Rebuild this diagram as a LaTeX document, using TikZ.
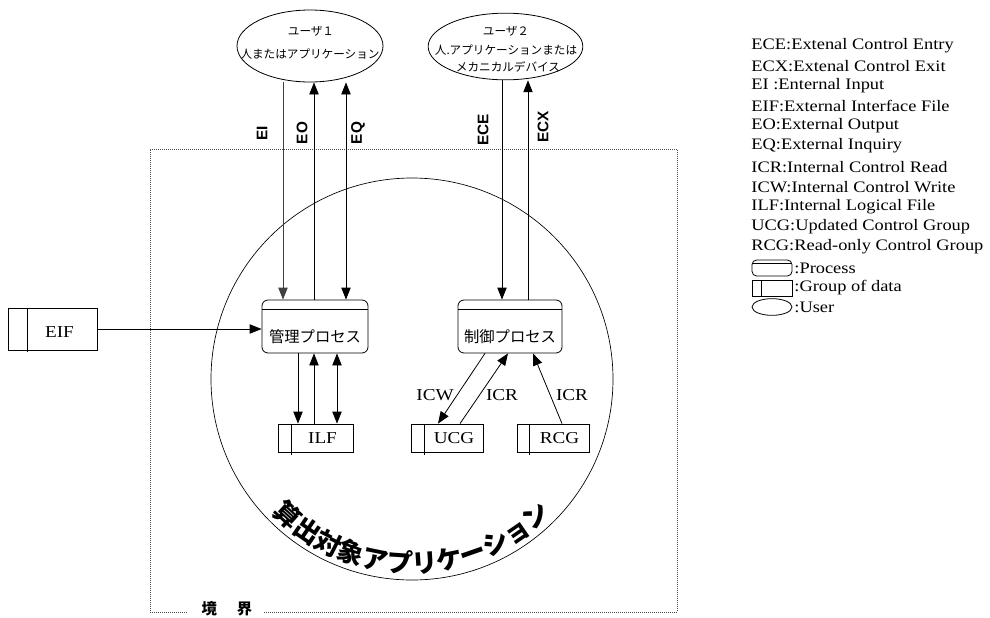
\documentclass[tikz,border=0pt]{standalone}
\usepackage{fontspec}
\setmainfont{Liberation Serif}[FakeStretch=1.15]
\setsansfont{Liberation Sans}
\newfontfamily\jp{Noto Sans CJK JP}
\usetikzlibrary{arrows.meta,shapes.geometric,decorations.text,calc}
\begin{document}
\begin{tikzpicture}[x=0.75pt,y=-0.75pt,
  line width=0.6pt,
  arr/.style={-{Triangle[width=7pt,length=9pt]}},
  arrtwo/.style={{Triangle[width=7pt,length=9pt]}-{Triangle[width=7pt,length=9pt]}},
  bnd/.style={densely dotted,line width=0.5pt,black!70},
  user/.style={ellipse,draw,inner sep=0pt,line width=0.6pt},
  proc/.style={draw,rounded corners=4.5pt,minimum width=79.5pt,minimum height=39.75pt,inner sep=0pt},
  dat/.style={draw,minimum height=21pt,inner sep=0pt},
  jpu/.style={font=\jp\fontsize{8.7}{10}\selectfont,inner sep=0pt},
  jpp/.style={font=\jp\fontsize{11.5}{13}\selectfont,inner sep=0pt},
  lab/.style={font=\sffamily\bfseries\fontsize{11.5}{12}\selectfont,inner sep=0pt,rotate=90},
  sm/.style={font=\fontsize{12.5}{14}\selectfont,inner sep=0pt},
  leg/.style={font=\fontsize{12}{15}\selectfont,inner sep=0pt,anchor=west},
]
\useasboundingbox (0,0) rectangle (990,618);

% boundary
\draw[bnd] (187,612) -- (150,612) -- (150,149) -- (677,149) -- (677,612) -- (263,612);
\node[font=\jp\bfseries\fontsize{11.5}{13}\selectfont,inner sep=0pt] (kyokai) at (227,609) {境\hspace{15pt}界};

% application circle
\node[circle,draw,minimum size=301.5pt,inner sep=0pt,line width=0.5pt] (app) at (412,379) {};
\path[decorate,decoration={text along path,text align=center,
  text={|\jp\bfseries\fontsize{19.5}{21}\selectfont|算出対象アプリケーション}}]
  (app.center) ++(150:194) arc[start angle=150,end angle=30,radius=194];

% users
\node[user,minimum width=109.5pt,minimum height=54pt] (u1) at (310,46) {};
\node[jpu] (u1a) at (311,31) {ユーザ１};
\node[jpu] (u1b) at (310,54) {人またはアプリケーション};
\node[user,minimum width=116pt,minimum height=50pt] (u2) at (505.5,46.5) {};
\node[jpu] (u2a) at (506,31) {ユーザ２};
\node[jpu] (u2b) at (506,50) {人.アプリケーションまたは};
\node[jpu] (u2c) at (508,67) {メカニカルデバイス};

% processes
\node[proc] (p1) at (315,326.5) {};
\draw ([yshift=-7.5pt]p1.north west) -- ([yshift=-7.5pt]p1.north east);
\node[jpp] (p1t) at ($(p1.center)+(0,10.5)$) {管理プロセス};
\node[proc,minimum width=78pt] (p2) at (510,326.5) {};
\draw ([yshift=-7.5pt]p2.north west) -- ([yshift=-7.5pt]p2.north east);
\node[jpp] (p2t) at ($(p2.center)+(0,10.5)$) {制御プロセス};

% data groups
\node[dat,minimum width=66.75pt,minimum height=31.5pt] (eif) at (52.5,329) {};
\draw ([xshift=15pt]eif.north west) -- ([xshift=15pt,yshift=-1.5pt]eif.south west);
\node[sm] (eift) at ($(eif.center)+(7,3)$) {EIF};
\node[dat,minimum width=56.25pt] (ilf) at (315.5,438) {};
\draw ([xshift=10.5pt]ilf.north west) -- ([xshift=10.5pt,yshift=-2pt]ilf.south west);
\node[sm] (ilft) at ($(ilf.center)+(7,0)$) {ILF};
\node[dat,minimum width=54pt] (ucg) at (447,438) {};
\draw ([xshift=10.5pt]ucg.north west) -- ([xshift=10.5pt,yshift=-2pt]ucg.south west);
\node[sm] (ucgt) at ($(ucg.center)+(7,0)$) {UCG};
\node[dat,minimum width=54pt] (rcg) at (553,438) {};
\draw ([xshift=9.75pt]rcg.north west) -- ([xshift=9.75pt,yshift=-2pt]rcg.south west);
\node[sm] (rcgt) at ($(rcg.center)+(6.5,0)$) {RCG};

% x positions of vertical flows
\coordinate (xEI) at (283,0);
\coordinate (xEO) at (314,0);
\coordinate (xEQ) at (346,0);
\coordinate (xECE) at (502,0);
\coordinate (xECX) at (528,0);
\coordinate (xDa) at (298,0);
\coordinate (xDb) at (314,0);
\coordinate (xDc) at (337,0);

\draw[arr,black!75] (xEI |- u1.south) -- (xEI |- p1.north);
\draw[arr] (xEO |- p1.north) -- (xEO |- u1.south);
\draw[arrtwo] (xEQ |- u1.south) -- (xEQ |- p1.north);
\draw[arr] (xECE |- u2.south) -- (xECE |- p2.north);
\draw[arr] (xECX |- p2.north) -- (xECX |- u2.south);

\draw[arr] (xDa |- p1.south) -- (xDa |- ilf.north);
\draw[arr] (xDb |- ilf.north) -- (xDb |- p1.south);
\draw[arrtwo] (xDc |- p1.south) -- (xDc |- ilf.north);

\draw[arr] (eif.east) -- (eif.east -| p1.west);

\draw[arr] ($(p2.south)+(-25,0)$) -- ($(ucg.north)+(-9,0)$);
\draw[arr] ($(ucg.north)+(13,0)$) -- ($(p2.south)+(-2,0)$);
\draw[arr] ($(rcg.north)+(9,0)$) -- ($(p2.south)+(23,0)$);

% flow labels
\node[lab] (lEI) at (262,133) {EI};
\node[lab] (lEO) at (302,133) {EO};
\node[lab] (lEQ) at (358,133) {EQ};
\node[lab] (lECE) at (483,130) {ECE};
\node[lab] (lECX) at (543,127) {ECX};
\node[sm] (lICW) at (435,395) {ICW};
\node[sm] (lICRa) at (502,395) {ICR};
\node[sm] (lICRb) at (572,395) {ICR};

% legend
\node[leg] (g1) at (751,46) {ECE:Extenal Control Entry};
\node[leg] (g2) at (751,66) {ECX:Extenal Control Exit};
\node[leg] (g3) at (751,86) {EI :Enternal Input};
\node[leg] (g4) at (751,106) {EIF:External Interface File};
\node[leg] (g5) at (751,126) {EO:External Output};
\node[leg] (g6) at (751,146) {EQ:External Inquiry};
\node[leg] (g7) at (751,167) {ICR:Internal Control Read};
\node[leg] (g8) at (751,187) {ICW:Internal Control Write};
\node[leg] (g9) at (751,207) {ILF:Internal Logical File};
\node[leg] (g10) at (751,227) {UCG:Updated Control Group};
\node[leg] (g11) at (751,247) {RCG:Read-only Control Group};

\node[draw,rounded corners=3.5pt,minimum width=30pt,minimum height=12pt,inner sep=0pt] (sp) at (772,268) {};
\draw ([yshift=-3pt]sp.north west) -- ([yshift=-3pt]sp.north east);
\node[leg] (g12) at (794,268) {:Process};
\node[draw,minimum width=30pt,minimum height=12pt,inner sep=0pt] (sd) at (772,288) {};
\draw ([xshift=7pt]sd.north west) -- ([xshift=7pt]sd.south west);
\node[leg] (g13) at (794,288) {:Group of data};
\node[ellipse,draw,minimum width=30pt,minimum height=12.5pt,inner sep=0pt] (su) at (772,307) {};
\node[leg] (g14) at (794,307) {:User};
\end{tikzpicture}
\end{document}
